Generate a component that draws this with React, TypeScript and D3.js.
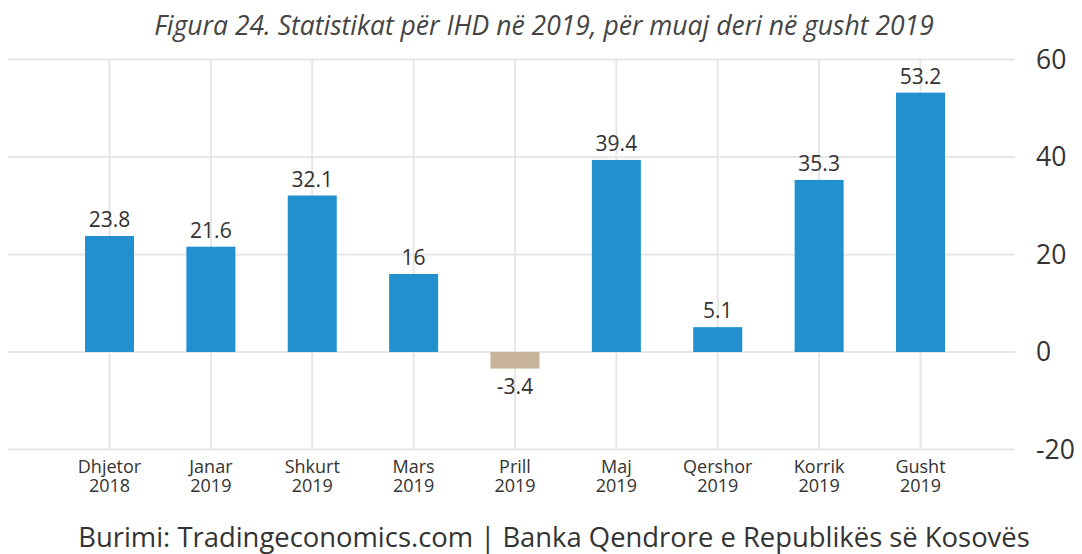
import React from "react";
import * as d3 from "d3";

const categories = [
  ["Dhjetor", "2018"],
  ["Janar", "2019"],
  ["Shkurt", "2019"],
  ["Mars", "2019"],
  ["Prill", "2019"],
  ["Maj", "2019"],
  ["Qershor", "2019"],
  ["Korrik", "2019"],
  ["Gusht", "2019"],
];
const values = [23.8, 21.6, 32.1, 16, -3.4, 39.4, 5.1, 35.3, 53.2];
const yTicks = [60, 40, 20, 0, -20];
const title = "Figura 24. Statistikat për IHD në 2019, për muaj deri në gusht 2019";
const source = "Burimi: Tradingeconomics.com | Banka Qendrore e Republikës së Kosovës";

const W = 1082;
const H = 554;
const FONT = "'Open Sans', 'Noto Sans', sans-serif";

export default function App() {
  const keys = categories.map((c) => c.join(" "));
  const x = d3.scalePoint<string>().domain(keys).range([109.5, 920.5]);
  const y = d3.scaleLinear().domain([-20, 60]).range([449.5, 59.5]);
  const barW = 49;
  const gridLeft = 8;
  const gridRight = 1015;

  return (
    <svg
      width={W}
      height={H}
      style={{ position: "absolute", left: 0, top: 0, background: "#fff" }}
      fontFamily={FONT}
    >
      <text x={544} y={35} textAnchor="middle" fontSize={26.5} fontStyle="italic" fill="#444">
        {title}
      </text>
      {yTicks.map((t) => (
        <g key={t}>
          <line x1={gridLeft} x2={gridRight} y1={y(t)} y2={y(t)} stroke="#e6e6e6" strokeWidth={2} />
          <text x={1036} y={y(t) + 9} fontSize={26.5} fill="#333">
            {t}
          </text>
        </g>
      ))}
      {keys.map((k) => (
        <line key={k} x1={x(k)} x2={x(k)} y1={y(60)} y2={y(-20)} stroke="#e6e6e6" strokeWidth={2} />
      ))}
      {values.map((v, i) => {
        const cx = x(keys[i])!;
        const top = y(Math.max(v, 0));
        const h = Math.abs(y(v) - y(0));
        return (
          <g key={i}>
            <rect
              x={cx - barW / 2}
              y={top}
              width={barW}
              height={h}
              fill={v >= 0 ? "#228fcf" : "#c8b49a"}
            />
            <text
              x={cx}
              y={v >= 0 ? y(v) - 9 : y(v) + 25}
              textAnchor="middle"
              fontSize={21}
              fill="#333"
            >
              {String(v)}
            </text>
          </g>
        );
      })}
      {categories.map((c, i) => (
        <text key={i} x={x(keys[i])} textAnchor="middle" fontSize={18} fill="#333">
          <tspan x={x(keys[i])} y={473}>
            {c[0]}
          </tspan>
          <tspan x={x(keys[i])} y={492}>
            {c[1]}
          </tspan>
        </text>
      ))}
      <text x={554} y={547} textAnchor="middle" fontSize={27.4} fill="#333">
        {source}
      </text>
    </svg>
  );
}
